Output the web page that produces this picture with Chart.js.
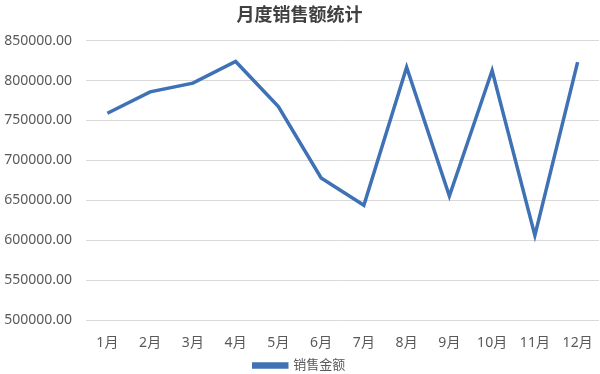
<!DOCTYPE html>
<html>
<head>
<meta charset="utf-8">
<script src="https://cdn.jsdelivr.net/npm/chart.js@4/dist/chart.umd.min.js"></script>
<style>
  html, body { margin: 0; padding: 0; background: #fff; }
  #wrap { width: 600px; height: 374px; }
</style>
</head>
<body>
<div id="wrap"><canvas id="myChart"></canvas></div>
<script>
const months = ["1月", "2月", "3月", "4月", "5月", "6月", "7月", "8月", "9月", "10月", "11月", "12月"];
const sales = [759000, 785800, 796700, 823900, 767300, 678100, 643800, 816800, 655500, 812600, 606200, 823100];
const chartTitle = "月度销售额统计";
const seriesName = "销售金额";

const textColor = "#595959";
const fontFamily = "'Noto Sans', 'Noto Sans CJK SC', sans-serif";

const ctx = document.getElementById("myChart").getContext("2d");

window.myChart = new Chart(ctx, {
  type: "line",
  data: {
    labels: months,
    datasets: [
      {
        label: seriesName,
        data: sales,
        borderColor: "#3f72b5",
        backgroundColor: "#3f72b5",
        borderWidth: 3.5,
        pointRadius: 0,
        fill: false,
        tension: 0,
      },
    ],
  },
  options: {
    responsive: true,
    maintainAspectRatio: false,
    animation: false,
    layout: { padding: { left: 0, right: 1, top: 3, bottom: -8 } },
    scales: {
      x: {
        offset: true,
        grid: { display: false },
        border: { display: false },
        ticks: { color: textColor, font: { family: fontFamily, size: 14 }, padding: 6 },
      },
      y: {
        min: 500000,
        max: 850000,
        grid: { color: "#d9d9d9", drawTicks: false },
        border: { display: false },
        afterFit: (scale) => {
          scale.width = 86;
        },
        ticks: {
          stepSize: 50000,
          color: textColor,
          padding: 14,
          font: { family: fontFamily, size: 14 },
          callback: (v) => v.toFixed(2),
        },
      },
    },
    plugins: {
      title: {
        display: true,
        text: chartTitle,
        color: "#404040",
        font: { family: fontFamily, size: 18, weight: "bold" },
        padding: { top: 2, bottom: 14 },
      },
      legend: {
        position: "bottom",
        labels: {
          color: textColor,
          boxWidth: 33,
          boxHeight: 3,
          font: { family: fontFamily, size: 13 },
          padding: 2,
        },
      },
      tooltip: { enabled: false },
    },
  },
});
</script>
</body>
</html>
